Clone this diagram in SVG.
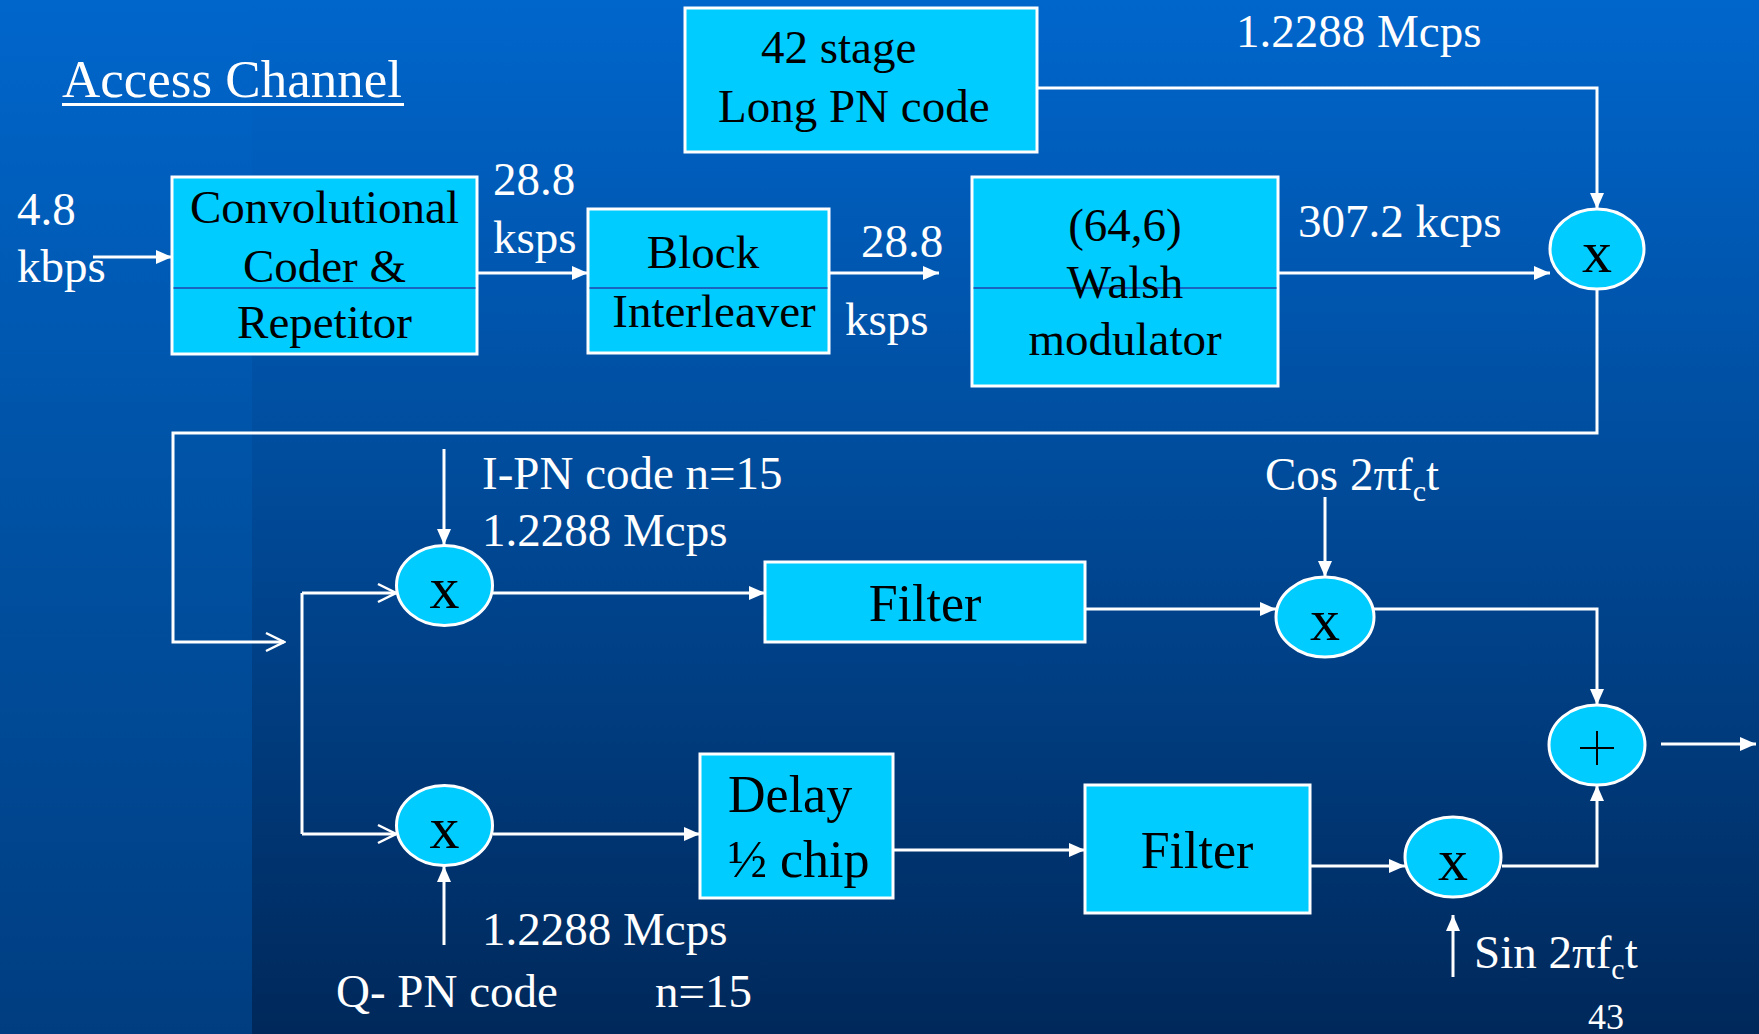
<svg xmlns="http://www.w3.org/2000/svg" width="1759" height="1034" viewBox="0 0 1759 1034">
<defs>
<linearGradient id="bgMain" x1="0" y1="0" x2="0" y2="1">
<stop offset="0" stop-color="#0066CC"/>
<stop offset="0.45" stop-color="#004C9C"/>
<stop offset="1" stop-color="#00285A"/>
</linearGradient>
<linearGradient id="bgLeft" x1="0" y1="0" x2="0" y2="1">
<stop offset="0" stop-color="#0066CC"/>
<stop offset="0.4" stop-color="#0055AA"/>
<stop offset="1" stop-color="#003D80"/>
</linearGradient>
<marker id="arr" markerUnits="userSpaceOnUse" viewBox="0 0 16 14" markerWidth="16" markerHeight="14" refX="16" refY="7" orient="auto">
<path d="M0,0 L16,7 L0,14 z" fill="#FFFFFF"/>
</marker>
<marker id="open" markerUnits="userSpaceOnUse" viewBox="0 0 22 22" markerWidth="22" markerHeight="22" refX="20" refY="11" orient="auto">
<path d="M2,2 L20,11 L2,20" fill="none" stroke="#FFFFFF" stroke-width="2.5"/>
</marker>
<style>
.box{fill:#00CCFF;stroke:#FFFFFF;stroke-width:3}
.div{stroke:#2244AA;stroke-width:1.5}
.circ{fill:#00CCFF;stroke:#FFFFFF;stroke-width:3}
.wire{fill:none;stroke:#FFFFFF;stroke-width:3}
.a{marker-end:url(#arr)}
.o{marker-end:url(#open)}
text{font-family:"Liberation Serif","Times New Roman",serif;font-size:47px}
.w{fill:#FFFFFF}
.k{fill:#000000}
.mid{text-anchor:middle}
.big{font-size:52px}
.xs{font-size:60px;fill:#000000;text-anchor:middle}
</style>
</defs>
<rect x="0" y="0" width="1759" height="1034" fill="url(#bgMain)"/>
<rect x="0" y="0" width="252" height="1034" fill="url(#bgLeft)"/>

<g id="title">
<text class="w" x="62" y="97" font-size="53" style="font-size:53px">Access Channel</text>
<line x1="62" y1="104.5" x2="404" y2="104.5" stroke="#FFFFFF" stroke-width="3"/>
</g>

<g id="connectors">
<path class="wire a" d="M93,257 H172"/>
<path class="wire a" d="M477,273 H588"/>
<path class="wire a" d="M829,273 H939"/>
<path class="wire a" d="M1278,273 H1550"/>
<path class="wire a" d="M1037,88 H1597 V209"/>
<path class="wire o" d="M1597,289 V433 H173 V642 H284"/>
<path class="wire" d="M302,593 V834"/>
<path class="wire o" d="M302,593 H396"/>
<path class="wire o" d="M302,834 H396"/>
<path class="wire a" d="M444,449 V545"/>
<path class="wire a" d="M493,593 H765"/>
<path class="wire a" d="M444,945 V866"/>
<path class="wire a" d="M493,834 H700"/>
<path class="wire a" d="M893,850 H1085"/>
<path class="wire a" d="M1085,609 H1276"/>
<path class="wire a" d="M1325,497 V577"/>
<path class="wire a" d="M1374,609 H1597 V705"/>
<path class="wire a" d="M1310,866 H1405"/>
<path class="wire a" d="M1502,866 H1597 V785"/>
<path class="wire a" d="M1453,977 V915"/>
<path class="wire a" d="M1661,744 H1756"/>
</g>

<g id="longpn">
<rect class="box" x="685" y="8" width="352" height="144"/>
<text class="k" x="761" y="63">42 stage</text>
<text class="k" x="718" y="122">Long PN code</text>
</g>

<g id="conv">
<rect class="box" x="172" y="177" width="305" height="177"/>
<line class="div" x1="173.5" y1="288" x2="475.5" y2="288"/>
<text class="k mid" x="324.5" y="223">Convolutional</text>
<text class="k mid" x="324.5" y="282">Coder &amp;</text>
<text class="k mid" x="324.5" y="338">Repetitor</text>
</g>

<g id="block">
<rect class="box" x="588" y="209" width="241" height="144"/>
<line class="div" x1="589.5" y1="288" x2="827.5" y2="288"/>
<text class="k mid" x="703" y="268">Block</text>
<text class="k mid" x="714" y="327">Interleaver</text>
</g>

<g id="walsh">
<rect class="box" x="972" y="177" width="306" height="209"/>
<line class="div" x1="973.5" y1="288" x2="1276.5" y2="288"/>
<text class="k mid" x="1125" y="241">(64,6)</text>
<text class="k mid" x="1125" y="298">Walsh</text>
<text class="k mid" x="1125" y="355">modulator</text>
</g>

<g id="mixLong">
<ellipse class="circ" cx="1597" cy="249" rx="47" ry="40"/>
<text class="xs" x="1597" y="272">x</text>
</g>

<g id="mixI">
<ellipse class="circ" cx="444.5" cy="585.5" rx="48" ry="40"/>
<text class="xs" x="444.5" y="608">x</text>
</g>

<g id="mixQ">
<ellipse class="circ" cx="444.5" cy="825.5" rx="48" ry="40"/>
<text class="xs" x="444.5" y="848">x</text>
</g>

<g id="filterI">
<rect class="box" x="765" y="562" width="320" height="80"/>
<text class="k mid big" x="925" y="621">Filter</text>
</g>

<g id="delay">
<rect class="box" x="700" y="754" width="193" height="144"/>
<text class="k big" x="728" y="812">Delay</text>
<text class="k big" x="728" y="877">½ chip</text>
</g>

<g id="filterQ">
<rect class="box" x="1085" y="785" width="225" height="128"/>
<text class="k mid big" x="1197" y="868">Filter</text>
</g>

<g id="mixCos">
<ellipse class="circ" cx="1325" cy="617" rx="49" ry="40"/>
<text class="xs" x="1325" y="640">x</text>
</g>

<g id="mixSin">
<ellipse class="circ" cx="1453" cy="857" rx="48" ry="40"/>
<text class="xs" x="1453" y="880">x</text>
</g>

<g id="sum">
<ellipse class="circ" cx="1597" cy="745" rx="48" ry="40"/>
<line x1="1580" y1="748" x2="1614" y2="748" stroke="#000000" stroke-width="2"/>
<line x1="1597" y1="731" x2="1597" y2="765" stroke="#000000" stroke-width="2"/>
</g>

<g id="labels">
<text class="w" x="17" y="225">4.8</text>
<text class="w" x="17" y="282">kbps</text>
<text class="w" x="493" y="195">28.8</text>
<text class="w" x="493" y="253">ksps</text>
<text class="w" x="861" y="257">28.8</text>
<text class="w" x="845" y="335">ksps</text>
<text class="w" x="1236" y="47">1.2288 Mcps</text>
<text class="w" x="1298" y="237">307.2 kcps</text>
<text class="w" x="482" y="489">I-PN code n=15</text>
<text class="w" x="482" y="546">1.2288 Mcps</text>
<text class="w" x="1265" y="490">Cos 2πf<tspan font-size="30" style="font-size:30px" dy="11">c</tspan><tspan dy="-11">t</tspan></text>
<text class="w" x="482" y="945">1.2288 Mcps</text>
<text class="w" x="336" y="1007">Q- PN code</text>
<text class="w" x="655" y="1007">n=15</text>
<text class="w" x="1474" y="968">Sin 2πf<tspan font-size="30" style="font-size:30px" dy="11">c</tspan><tspan dy="-11">t</tspan></text>
<text class="w" x="1588" y="1029" style="font-size:36px">43</text>
</g>
</svg>
